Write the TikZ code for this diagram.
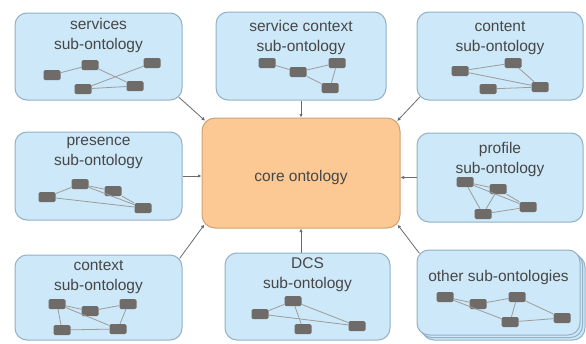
\documentclass[tikz,border=0pt]{standalone}
\usepackage{fontspec}
\setmainfont{Liberation Sans}
\usetikzlibrary{arrows.meta}
\definecolor{boxfill}{HTML}{CDE8F8}
\definecolor{boxline}{HTML}{93B1C6}
\definecolor{corefill}{HTML}{FCC893}
\definecolor{coreline}{HTML}{CFA276}
\definecolor{txt}{HTML}{474747}
\definecolor{entgray}{HTML}{6F6B69}
\definecolor{linkgray}{HTML}{9C9C9C}
\definecolor{conngray}{HTML}{6A6A6A}
\tikzset{
  box/.style={rectangle, rounded corners=12pt, draw=boxline, line width=1pt, fill=boxfill, inner sep=0pt},
  corebox/.style={rectangle, rounded corners=13pt, draw=coreline, line width=1pt, fill=corefill, inner sep=0pt},
  title/.style={align=center, text=txt, font=\fontsize{15.5}{20}\selectfont, inner sep=0pt},
  ent/.style={rectangle, rounded corners=1.5pt, fill=entgray, minimum width=17pt, minimum height=10pt, inner sep=0pt},
  link/.style={draw=linkgray, line width=0.8pt},
  conn/.style={draw=conngray, line width=0.8pt, -{Latex[length=3.5pt,width=3.5pt]}},
  corner/.style={shorten <=-4.8pt, shorten >=-4.8pt},
}
\begin{document}
\begin{tikzpicture}[x=1pt,y=-1pt]
\useasboundingbox (0,0) rectangle (586,343);
\fill[white] (0,0) rectangle (586,343);

% stacked copies behind "other sub-ontologies"
\node[box, minimum width=163pt, minimum height=85pt] (othC) at (503.5,297.5) {};
\node[box, minimum width=163pt, minimum height=85pt] (othB) at (501,295) {};

% boxes
\node[box, minimum width=167pt, minimum height=87pt] (srv) at (98.5,56.5) {};
\node[box, minimum width=170pt, minimum height=88pt] (svc) at (301,56) {};
\node[box, minimum width=166pt, minimum height=88pt] (cnt) at (500,56) {};
\node[box, minimum width=167pt, minimum height=88pt] (pre) at (98.5,176) {};
\node[box, minimum width=166pt, minimum height=89pt] (pro) at (500,177.5) {};
\node[box, minimum width=167pt, minimum height=85pt] (ctx) at (98.5,297.5) {};
\node[box, minimum width=165pt, minimum height=87pt] (dcs) at (307.5,296.5) {};
\node[box, minimum width=163pt, minimum height=85pt] (oth) at (498.5,292.5) {};
\node[corebox, minimum width=198pt, minimum height=110pt] (core) at (301,173) {};

% titles
\node[title] (srvT) at (98.5,35) {services\\sub-ontology};
\node[title] (svcT) at (301,37.5) {service context\\sub-ontology};
\node[title] (cntT) at (500,38.5) {content\\sub-ontology};
\node[title] (preT) at (98.5,153) {presence\\sub-ontology};
\node[title] (proT) at (500,159.5) {profile\\sub-ontology};
\node[title] (ctxT) at (98.5,277.5) {context\\sub-ontology};
\node[title] (dcsT) at (307.5,275) {DCS\\sub-ontology};
\node[title] (othT) at (498.5,277) {other sub-ontologies};
\node[title] (coreT) at (301,177) {core ontology};

% connectors into the core ontology
\draw[conn, corner] (srv.south east) -- (core.north west);
\draw[conn] (svc.south -| core.north) -- (core.north);
\draw[conn, corner] (cnt.south west) -- (core.north east);
\draw[conn] (pre.east) -- (pre.east -| core.west);
\draw[conn] (pro.west) -- (pro.west -| core.east);
\draw[conn, corner] (ctx.north east) -- (core.south west);
\draw[conn] (dcs.north -| core.south) -- (core.south);
\draw[conn, corner] (oth.north west) -- (core.south east);

% services graph
\node[ent] (sa) at (52,75) {};
\node[ent] (sb) at (90,65) {};
\node[ent] (sc) at (152,63) {};
\node[ent] (sd) at (83,89) {};
\node[ent] (se) at (135,86) {};
\draw[link] (sa) -- (sb) (sb) -- (se) (sd) -- (sc) (sd) -- (se);

% service context graph
\node[ent] (va) at (267,63) {};
\node[ent] (vb) at (298,72) {};
\node[ent] (vc) at (337,63) {};
\node[ent] (vd) at (330,88) {};
\draw[link] (va) -- (vb) (vb) -- (vc) (vb) -- (vd) (vc) -- (vd);

% content graph
\node[ent] (ca) at (460,71) {};
\node[ent] (cb) at (513,63) {};
\node[ent] (cc) at (540,87) {};
\node[ent] (cd) at (488,89) {};
\draw[link] (ca) -- (cb) (ca) -- (cc) (cb) -- (cc) (cd) -- (cc);

% presence graph
\node[ent] (pa) at (47,197) {};
\node[ent] (pb) at (80,184) {};
\node[ent] (pc) at (113,191) {};
\node[ent] (pd) at (143,208) {};
\draw[link] (pa) -- (pb) (pb) -- (pc) (pb) -- (pd) (pa) -- (pd) (pc) -- (pd);

% profile graph
\node[ent] (ra) at (465,182) {};
\node[ent] (rb) at (498,189) {};
\node[ent] (rc) at (528,207) {};
\node[ent] (rd) at (483,214) {};
\draw[link] (ra) -- (rb) (ra) -- (rd) (ra) -- (rc) (rb) -- (rd) (rb) -- (rc) (rd) -- (rc);

% context graph
\node[ent] (xa) at (57,304) {};
\node[ent] (xb) at (90,311) {};
\node[ent] (xc) at (128,304) {};
\node[ent] (xd) at (62,330) {};
\node[ent] (xe) at (118,329) {};
\draw[link] (xa) -- (xb) (xb) -- (xc) (xa) -- (xd) (xa) -- (xe) (xc) -- (xe) (xd) -- (xe);

% DCS graph
\node[ent] (da) at (260,314) {};
\node[ent] (db) at (293,301) {};
\node[ent] (dc) at (303,329) {};
\node[ent] (dd) at (357,326) {};
\draw[link] (da) -- (db) (db) -- (dc) (db) -- (dd) (da) -- (dd);

% other sub-ontologies graph
\node[ent] (oa) at (445,297) {};
\node[ent] (ob) at (478,304) {};
\node[ent] (oc) at (517,297) {};
\node[ent] (od) at (510,322) {};
\node[ent] (oe) at (562,318) {};
\draw[link] (oa) -- (ob) (ob) -- (oc) (oa) -- (od) (oc) -- (od) (oc) -- (oe) (od) -- (oe);
\end{tikzpicture}
\end{document}
